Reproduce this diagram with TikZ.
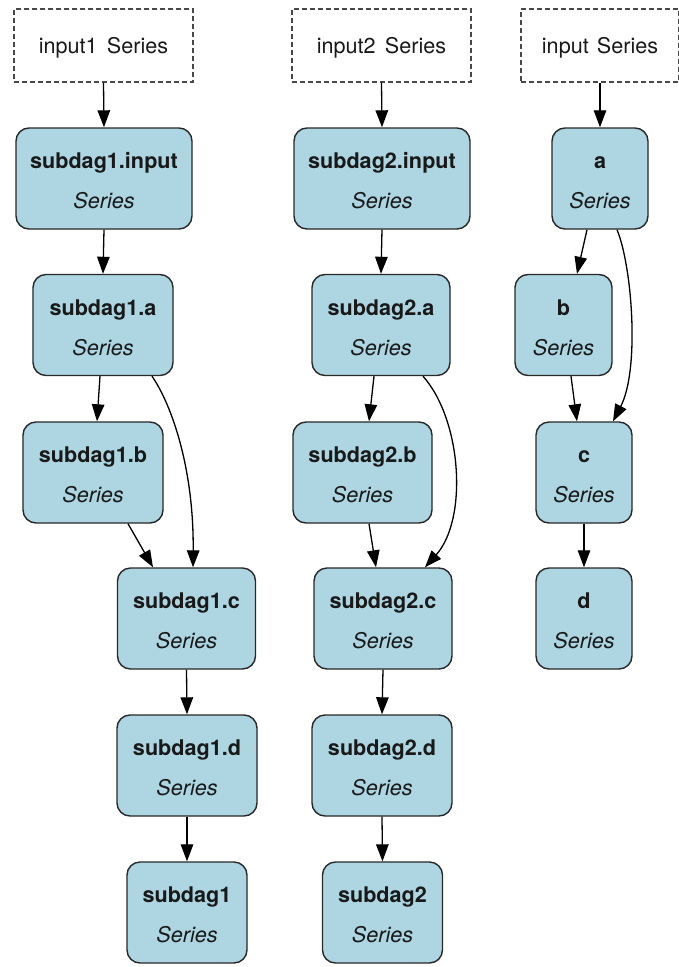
\documentclass[tikz,border=0pt]{standalone}
\usepackage{fontspec}
\setmainfont{TeX Gyre Heros}
\usetikzlibrary{arrows.meta}

\definecolor{cardfill}{RGB}{173,214,226}
\definecolor{cardline}{RGB}{40,40,40}
\definecolor{inkcol}{RGB}{25,25,25}

\tikzset{
  card/.style={draw=cardline, line width=1.4bp, fill=cardfill, rounded corners=13bp,
    minimum height=101bp, inner sep=0pt},
  srcbox/.style={draw=cardline!85, line width=1.2bp, dash pattern=on 5bp off 3bp,
    minimum height=73bp, inner sep=0pt},
  lbl/.style={inner sep=0pt, text=inkcol, font=\fontsize{21.6bp}{25bp}\selectfont},
  edge/.style={draw=black, line width=1.3bp, -{Triangle[length=17bp, width=12.5bp]}},
}

% a rounded card with a bold name and an italic type line
\newcommand{\card}[5]{%
  \node[card, minimum width=#4bp] (#1) at (#2,#3) {};
  \node[lbl, anchor=base] (#1-t) at ([yshift=10bp]#1.center) {\bfseries #5};
  \node[lbl, anchor=base] (#1-s) at ([yshift=-30bp]#1.center) {\itshape Series};
}
% a dashed input box
\newcommand{\srcbox}[5]{%
  \node[srcbox, minimum width=#4bp] (#1) at (#2,#3) {};
  \node[lbl, anchor=base] (#1-t) at ([yshift=-7.5bp]#1.center) {#5};
}

\begin{document}
\begin{tikzpicture}[x=1bp, y=-1bp]
  \fill[white] (0,0) rectangle (679,967);
  \useasboundingbox (0,0) rectangle (679,967);

  % inputs
  \srcbox{in1}{103.5}{45.5}{179}{input1\hspace{0.15em} Series}
  \srcbox{in2}{381.5}{45.5}{179}{input2\hspace{0.15em} Series}
  \srcbox{in3}{600}{45.5}{158}{input\hspace{0.1em} Series}

  % first sub-DAG
  \card{s1in}{104}{178.5}{176}{subdag1.input}
  \card{s1a}{103}{325}{140}{subdag1.a}
  \card{s1b}{93}{472.5}{140}{subdag1.b}
  \card{s1c}{186.5}{618.5}{138}{subdag1.c}
  \card{s1d}{187}{765.5}{140}{subdag1.d}
  \card{s1}{187}{912.5}{120}{subdag1}

  % second sub-DAG
  \card{s2in}{382}{178.5}{176}{subdag2.input}
  \card{s2a}{381}{325}{138}{subdag2.a}
  \card{s2b}{362.5}{472.5}{139}{subdag2.b}
  \card{s2c}{383}{618.5}{138}{subdag2.c}
  \card{s2d}{382}{765.5}{140}{subdag2.d}
  \card{s2}{382.5}{912.5}{120}{subdag2}

  % plain DAG
  \card{na}{600}{178.5}{96}{a}
  \card{nb}{563.5}{325}{97}{b}
  \card{nc}{584}{472.5}{96}{c}
  \card{nd}{584}{618.5}{96}{d}

  % connectors, first column
  \draw[edge] (in1.south) -- (s1in.north);
  \draw[edge] (s1in.south) -- (s1a.north);
  \draw[edge] ([xshift=-3bp]s1a.south) -- ([xshift=4bp]s1b.north);
  \draw[edge] ([xshift=35bp]s1b.south) -- ([xshift=-33.5bp]s1c.north);
  \draw[edge] ([xshift=49bp]s1a.south) .. controls +(20,29) and +(1,-98) .. ([xshift=6.5bp]s1c.north);
  \draw[edge] (s1c.south) -- (s1d.north);
  \draw[edge] (s1d.south) -- (s1.north);

  % connectors, second column
  \draw[edge] (in2.south) -- (s2in.north);
  \draw[edge] (s2in.south) -- (s2a.north);
  \draw[edge] ([xshift=-7bp]s2a.south) -- ([xshift=6.5bp]s2b.north);
  \draw[edge] ([xshift=6.5bp]s2b.south) -- ([xshift=-7bp]s2c.north);
  \draw[edge] ([xshift=42bp]s2a.south) .. controls +(39,44) and +(43,-48) .. ([xshift=42bp]s2c.north);
  \draw[edge] (s2c.south) -- (s2d.north);
  \draw[edge] (s2d.south) -- (s2.north);

  % connectors, third column
  \draw[edge] (in3.south) -- (na.north);
  \draw[edge] ([xshift=-13bp]na.south) -- ([xshift=13.5bp]nb.north);
  \draw[edge] ([xshift=17bp]na.south) .. controls +(15,36) and +(27,-52) .. ([xshift=29bp]nc.north);
  \draw[edge] ([xshift=7.5bp]nb.south) -- ([xshift=-7bp]nc.north);
  \draw[edge] (nc.south) -- (nd.north);
\end{tikzpicture}
\end{document}
